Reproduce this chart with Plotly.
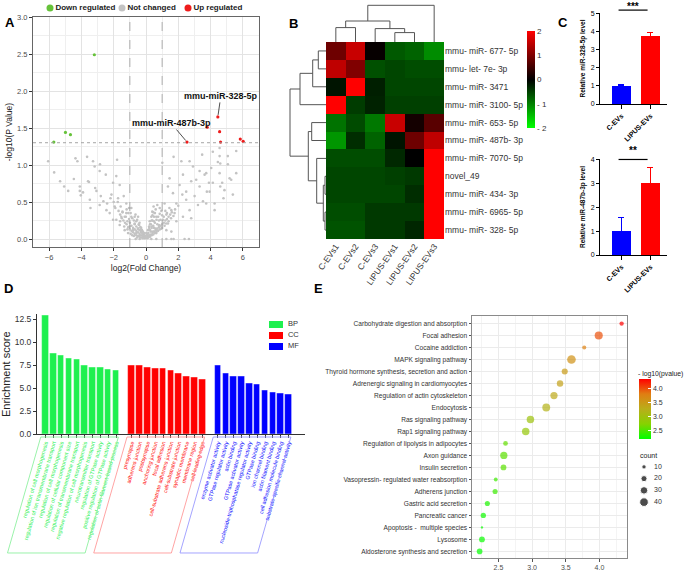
import plotly.graph_objects as go

W, H = 685, 571
FONT = "Liberation Sans"

# ---------------- Panel A : volcano ----------------
ns_points = [
    (-6.06, 1.05), (-5.69, 0.90), (-5.32, 0.78), (-5.07, 0.71), (-4.82, 0.65), (-4.47, 0.81), (-4.37, 1.09),
    (-4.25, 1.05), (-4.10, 0.71), (-4.10, 0.65), (-4.04, 0.59), (-3.90, 0.63), (-3.65, 1.11), (-3.59, 0.78),
    (-3.53, 0.77), (-3.48, 0.53), (-3.44, 0.42), (-3.28, 1.05), (-3.18, 0.98), (-3.15, 0.69), (-3.07, 0.65),
    (-2.87, 0.92), (-2.80, 0.58), (-2.64, 0.51), (-2.49, 0.87), (-2.41, 0.48), (-2.25, 0.35), (-2.14, 0.60),
    (-2.04, 0.76), (-1.94, 0.44), (-1.84, 0.85), (-1.79, 1.07), (-1.73, 0.55), (-1.63, 0.73), (-1.57, 0.44),
    (-1.46, 0.37), (-1.38, 0.58), (-1.32, 0.30), (-1.22, 0.48), (-1.15, 0.24), (-1.05, 0.42), (-1.01, 0.17),
    (-0.91, 0.30), (-0.80, 0.12), (-0.70, 0.21), (-0.60, 0.08), (-0.49, 0.14), (-0.39, 0.05), (-0.29, 0.10),
    (-0.19, 0.03), (-0.08, 0.01), (-0.64, 0.0), (-0.39, 0.0), (0.33, 0.0), (0.64, 0.0), (1.26, 0.0), (1.57, 0.0),
    (1.71, 0.0), (2.39, 0.0), (2.66, 0.0), (1.01, 1.03), (1.71, 1.11), (1.36, 0.71), (1.46, 0.82), (2.19, 1.05),
    (2.29, 0.87), (2.70, 1.05), (2.80, 0.78), (2.91, 0.98), (3.11, 0.80), (3.32, 0.92), (3.48, 1.14), (3.63, 0.87),
    (3.77, 0.64), (3.90, 0.76), (4.04, 0.96), (4.14, 0.76), (4.25, 0.48), (4.45, 1.04), (4.56, 1.12), (4.60, 0.71),
    (4.72, 0.76), (4.80, 0.55), (5.07, 1.01), (5.18, 0.82), (5.59, 1.19), (5.59, 0.89), (5.38, 0.60), (4.56, 1.23),
    (4.25, 0.39), (3.73, 0.48), (3.22, 0.46), (2.70, 0.39), (2.25, 0.60), (1.88, 0.48), (1.57, 0.39), (1.26, 0.33),
    (1.05, 0.26), (0.80, 0.19), (0.60, 0.14), (0.43, 0.10), (0.27, 0.05), (0.12, 0.02), (1.15, 0.48), (0.85, 0.42),
    (0.64, 0.30), (0.49, 0.24), (0.35, 0.17), (2.08, 0.73), (2.49, 0.64), (3.01, 0.58), (3.53, 0.51), (3.94, 0.64),
    (3.32, 0.71), (2.49, 0.53), (1.67, 0.62), (1.77, 0.35), (1.36, 0.21), (1.88, 0.24), (2.29, 0.30), (2.80, 0.28),
    (0.95, 0.14), (1.26, 0.12), (1.57, 0.10), (0.64, 0.08), (-1.84, 0.26), (-1.63, 0.19), (-1.32, 0.12),
    (-1.11, 0.08), (-0.85, 0.05), (-1.53, 0.30), (-2.04, 0.26), (-2.45, 0.39), (-2.87, 0.46), (-1.22, 0.35),
    (-0.91, 0.42), (-0.70, 0.30), (-0.60, 0.24), (-0.49, 0.30), (-0.43, 0.19), (-0.35, 0.12), (-0.23, 0.08),
    (-0.14, 0.05), (0.02, 0.08), (0.12, 0.12), (0.19, 0.17), (0.23, 0.24), (0.33, 0.30), (0.39, 0.37), (0.47, 0.44),
    (4.14, 1.18), (5.07, 1.12), (4.60, 1.02), (3.73, 0.89), (4.56, 0.89), (5.28, 0.80), (4.86, 0.66),
    (-2.85, 1.01), (-1.90, 0.42), (-1.70, 0.38), (-1.60, 0.33), (-1.50, 0.28), (-1.40, 0.25), (-1.30, 0.22),
    (-1.20, 0.20), (-1.10, 0.16), (-1.00, 0.13), (-0.90, 0.11), (-0.80, 0.09), (-0.70, 0.07), (-0.60, 0.05),
    (-0.50, 0.04), (-0.40, 0.03), (-0.30, 0.02), (-0.20, 0.01), (-1.00, 0.22), (-0.90, 0.18), (-0.80, 0.15),
    (-0.70, 0.13), (-0.60, 0.11), (-0.50, 0.09), (-0.40, 0.07), (-0.30, 0.05), (-0.20, 0.04), (-0.10, 0.02),
    (-0.70, 0.20), (-0.60, 0.17), (-0.50, 0.14), (-0.40, 0.12), (-0.30, 0.09), (-0.20, 0.07), (-0.10, 0.05),
    (-0.55, 0.26), (-0.45, 0.20), (-0.35, 0.16), (-0.25, 0.12), (-0.15, 0.08), (-0.05, 0.04), (-1.25, 0.30),
    (-1.45, 0.36), (-1.75, 0.50), (-2.20, 0.55), (-2.00, 0.50), (-0.85, 0.28), (-0.65, 0.33), (-1.10, 0.35),
    (0.10, 0.03), (0.20, 0.05), (0.30, 0.06), (0.40, 0.08), (0.50, 0.10), (0.60, 0.12), (0.70, 0.14), (0.80, 0.16),
    (0.90, 0.18), (1.00, 0.20), (1.10, 0.22), (1.20, 0.25), (1.30, 0.27), (1.40, 0.30), (1.50, 0.33), (1.60, 0.36),
    (1.80, 0.40), (2.00, 0.45), (0.15, 0.08), (0.25, 0.12), (0.35, 0.15), (0.45, 0.18), (0.55, 0.22), (0.65, 0.26),
    (0.75, 0.30), (0.85, 0.34), (0.95, 0.38), (0.20, 0.15), (0.30, 0.20), (0.40, 0.25), (0.50, 0.30), (0.30, 0.10),
    (0.50, 0.15), (0.70, 0.20), (0.90, 0.26), (1.10, 0.30), (1.30, 0.35), (0.05, 0.01), (0.15, 0.02), (0.60, 0.40),
    (0.70, 0.46), (0.45, 0.36),
    (-1.35, 0.17), (-1.15, 0.13), (-0.95, 0.07), (-0.75, 0.04), (-0.55, 0.02), (-1.60, 0.24), (-1.05, 0.27),
    (-0.75, 0.25), (-0.95, 0.35), (-1.20, 0.40), (-0.40, 0.22), (-0.30, 0.15), (-0.20, 0.10), (-0.10, 0.08),
    (0.00, 0.02), (0.05, 0.05), (0.10, 0.07), (0.25, 0.03), (0.35, 0.05), (0.45, 0.06), (0.55, 0.08), (0.65, 0.10),
    (0.75, 0.11), (0.85, 0.13), (1.00, 0.15), (1.15, 0.18), (1.25, 0.21), (1.40, 0.24), (1.55, 0.28), (1.70, 0.31),
    (0.40, 0.32), (0.55, 0.35), (0.80, 0.25), (1.00, 0.32), (1.20, 0.38), (1.45, 0.42), (0.25, 0.20), (0.35, 0.25),
]
down_x = [-5.71, -4.99, -4.68, -3.20]
down_y = [1.31, 1.44, 1.41, 2.49]
up_x = [2.54, 3.79, 4.45, 4.56, 4.62, 5.84, 6.02]
up_y = [1.31, 1.51, 1.65, 1.45, 1.31, 1.35, 1.32]
volcano_legend = ["Down regulated", "Not changed", "Up regulated"]
labelled_names = ["mmu-miR-328-5p", "mmu-miR-487b-3p"]
labelled_x = [4.45, 2.54]
labelled_y = [1.65, 1.31]
fc_cut = 1.0
p_cut = 1.301

# ---------------- Panel B : heatmap ----------------
hm_cols = ["C-EVs1", "C-EVs2", "C-EVs3", "LIPUS-EVs1", "LIPUS-EVs2", "LIPUS-EVs3"]
hm_rows = ["mmu- miR- 677- 5p", "mmu- let- 7e- 3p", "mmu- miR- 3471", "mmu- miR- 3100- 5p",
           "mmu- miR- 653- 5p", "mmu- miR- 487b- 3p", "mmu- miR- 7070- 5p", "novel_49",
           "mmu- miR- 434- 3p", "mmu- miR- 6965- 5p", "mmu- miR- 328- 5p"]
hm_z = [
    [0.86, 1.57, 0.05, -0.70, -0.78, -1.10],
    [1.50, 1.00, -0.63, -0.55, -0.60, -0.60],
    [-0.16, 2.00, -0.24, -0.55, -0.55, -0.55],
    [2.00, -0.47, -0.27, -0.50, -0.50, -0.50],
    [-0.90, -0.59, -0.94, 1.57, 0.16, 0.70],
    [-1.18, -0.35, -0.78, -0.16, 0.86, 1.50],
    [-0.60, -0.60, -0.60, -0.31, 0.00, 2.00],
    [-0.55, -0.55, -0.55, -0.50, -0.45, 2.00],
    [-0.55, -0.55, -0.55, -0.55, -0.35, 2.00],
    [-0.60, -0.60, -0.45, -0.45, -0.45, 2.00],
    [-0.65, -0.65, -0.45, -0.45, -0.30, 2.00],
]
# linkage: (node a, node b, distance); new node ids follow the leaves
col_merges = [(0, 1, 14.4), (3, 4, 9.4), (2, 7, 13.4), (6, 8, 21.0), (9, 5, 36.7)]
row_merges = [(0, 1, 7.7), (11, 2, 13.3), (12, 3, 26.0), (4, 5, 14.3), (7, 8, 1.0), (9, 10, 1.0),
              (15, 16, 2.7), (6, 17, 9.3), (14, 18, 17.7), (13, 19, 36.0)]

# ---------------- Panel C : qPCR bars ----------------
c_groups = ["C-EVs", "LIPUS-EVs"]
mir328_mean = [1.02, 3.75]
mir328_err = [0.06, 0.17]
mir487_mean = [1.00, 3.00]
mir487_err = [0.55, 0.68]

# ---------------- Panel D : GO enrichment ----------------
bp_terms = ["regulation of cell morphogenesis", "regulation of ion transmembrane transport",
            "regulation of cell morphogenesis", "regulation of cellular component size",
            "regulation of transmembrane transport", "negative regulation of cell morphogenesis",
            "neurotransmitter transport", "regulation of GTPase activity",
            "positive regulation of GTPase activity", "regulation of actin filament-based process"]
bp_scores = [12.9, 8.77, 8.51, 8.19, 8.08, 7.46, 7.28, 7.21, 7.07, 6.92]
cc_terms = ["presynapse", "adherens junction", "postsynapse", "anchoring junction", "focal adhesion",
            "cell-substrate adherens junction", "cell-substrate junction", "synaptic membrane",
            "membrane region", "cell leading edge"]
cc_scores = [7.50, 7.43, 7.28, 7.17, 7.10, 6.88, 6.63, 6.27, 6.20, 5.94]
mf_terms = ["enzyme activator activity", "GTPase regulator activity", "actin binding",
            "GTPase activator activity", "nucleoside-triphosphatase regulator activity", "GTPase binding",
            "ion channel binding", "actin filament binding", "cell adhesion molecule binding",
            "substrate-specific channel activity"]
mf_scores = [7.46, 6.59, 6.30, 6.23, 5.51, 5.36, 4.78, 4.57, 4.38, 4.31]
go_groups = ["BP", "CC", "MF"]

# ---------------- Panel E : KEGG bubble ----------------
kegg_terms = ["Carbohydrate digestion and absorption", "Focal adhesion", "Cocaine addiction",
              "MAPK signaling pathway", "Thyroid hormone synthesis, secretion and action",
              "Adrenergic signaling in cardiomyocytes", "Regulation of actin cytoskeleton", "Endocytosis",
              "Ras signaling pathway", "Rap1 signaling pathway", "Regulation of lipolysis in adipocytes",
              "Axon guidance", "Insulin secretion", "Vasopressin- regulated water reabsorption",
              "Adherens junction", "Gastric acid secretion", "Pancreatic cancer",
              "Apoptosis -  multiple species", "Lysosome", "Aldosterone synthesis and secretion"]
kegg_logp = [4.33, 3.99, 3.775, 3.585, 3.485, 3.415, 3.325, 3.21, 2.975, 2.905, 2.605, 2.58, 2.575,
             2.46, 2.45, 2.335, 2.275, 2.255, 2.255, 2.22]
kegg_count = [10, 35, 9, 40, 20, 22, 28, 33, 30, 30, 12, 28, 18, 8, 14, 14, 15, 3, 18, 17]
count_legend = [10, 20, 30, 40]

# =========================================================
def dom_x(a, b):
    return [a / W, b / W]


def dom_y(top, bottom):
    return [1 - bottom / H, 1 - top / H]


def py(y):
    return 1 - y / H


GREEN_A, GRAY_A, RED_A = "#66c23a", "#c3c3c3", "#ee1c1c"
BPC, CCC, MFC = "#1ef04f", "#ff0000", "#0000ff"
AXC = "#333333"

fig = go.Figure()

# ---- A ----
fig.add_trace(go.Scatter(x=[p[0] for p in ns_points], y=[p[1] for p in ns_points], mode="markers",
                         marker=dict(size=2.6, color=GRAY_A), xaxis="x", yaxis="y", showlegend=False))
fig.add_trace(go.Scatter(x=down_x, y=down_y, mode="markers", marker=dict(size=3.2, color=GREEN_A),
                         xaxis="x", yaxis="y", showlegend=False))
fig.add_trace(go.Scatter(x=up_x, y=up_y, mode="markers", marker=dict(size=3.2, color=RED_A),
                         xaxis="x", yaxis="y", showlegend=False))
leg_offsets = [0, 72, 138]
fig.add_trace(go.Scatter(x=leg_offsets, y=[0, 0, 0], mode="markers+text", text=volcano_legend,
                         textposition="middle right", cliponaxis=False,
                         marker=dict(size=7, color=[GREEN_A, GRAY_A, RED_A]),
                         textfont=dict(size=8, color="#222", family=FONT, weight="bold"),
                         xaxis="x10", yaxis="y10", showlegend=False))

# ---- B ----
fig.add_trace(go.Heatmap(z=hm_z, x=list(range(len(hm_cols))), y=list(range(len(hm_rows))),
                         colorscale=[[0, "#00ff00"], [0.5, "#000000"], [1, "#ff0000"]], zmin=-2, zmax=2,
                         xaxis="x2", yaxis="y2",
                         colorbar=dict(x=527 / W, xanchor="left", y=py(79.5), yanchor="middle",
                                       len=97, lenmode="pixels", thickness=8, thicknessmode="pixels",
                                       xpad=0, ypad=0, outlinewidth=0, ticks="",
                                       tickvals=[-2, -1, 0, 1, 2], ticktext=["- 2", "- 1", "0", "1", "2"],
                                       tickfont=dict(size=8, color="#333", family=FONT))))


def dendro(n, merges):
    pos = {i: float(i) for i in range(n)}
    hgt = {i: 0.0 for i in range(n)}
    ps, hs = [], []
    for k, (a, b, d) in enumerate(merges):
        node = n + k
        pos[node] = (pos[a] + pos[b]) / 2
        hgt[node] = d
        ps += [pos[a], pos[a], pos[b], pos[b], None]
        hs += [hgt[a], d, d, hgt[b], None]
    return ps, hs


cp, ch = dendro(len(hm_cols), col_merges)
fig.add_trace(go.Scatter(x=cp, y=ch, mode="lines", line=dict(color="#555", width=1),
                         xaxis="x3", yaxis="y3", showlegend=False))
rp, rh = dendro(len(hm_rows), row_merges)
fig.add_trace(go.Scatter(x=rh, y=rp, mode="lines", line=dict(color="#555", width=1),
                         xaxis="x4", yaxis="y4", showlegend=False))

# ---- C ----
bar_cols = ["#0000ff", "#ff0000"]
for i in range(2):
    fig.add_trace(go.Bar(x=[i], y=[mir328_mean[i]], width=0.655, marker=dict(color=bar_cols[i], line_width=0),
                         error_y=dict(type="data", array=[mir328_err[i]], arrayminus=[0], symmetric=False,
                                      color=bar_cols[i], thickness=1, width=3),
                         xaxis="x5", yaxis="y5", showlegend=False))
    fig.add_trace(go.Bar(x=[i], y=[mir487_mean[i]], width=0.655, marker=dict(color=bar_cols[i], line_width=0),
                         error_y=dict(type="data", array=[mir487_err[i]], arrayminus=[0], symmetric=False,
                                      color=bar_cols[i], thickness=1, width=3),
                         xaxis="x7", yaxis="y7", showlegend=False))

# ---- D ----
groups = [(bp_terms, bp_scores, BPC), (cc_terms, cc_scores, CCC), (mf_terms, mf_scores, MFC)]
d_tickvals, d_ticktext, d_spans = [], [], []
start = 0
for terms, scores, col in groups:
    xs = list(range(start, start + len(scores)))
    fig.add_trace(go.Bar(x=xs, y=scores, width=0.84,
                         marker=dict(color=col, line=dict(color="rgba(255,255,255,0.55)", width=0.8)),
                         xaxis="x6", yaxis="y6", showlegend=False))
    d_tickvals += xs
    d_ticktext += ['<span style="color:%s">%s</span>' % (col, t) for t in terms]
    d_spans.append((xs[0], xs[-1], col))
    start += len(scores) + 1
D_XR = [-1.08, start - 1 + 1.1]

# D legend
fig.add_trace(go.Bar(x=[1, 1, 1], y=[0, 1, 2], orientation="h", width=0.72,
                     marker=dict(color=[BPC, CCC, MFC], line_width=0), xaxis="x11", yaxis="y11",
                     showlegend=False))
fig.add_trace(go.Scatter(x=[1.35] * 3, y=[0, 1, 2], mode="text", text=go_groups, textposition="middle right",
                         textfont=dict(size=7.5, color="#333", family=FONT), cliponaxis=False,
                         xaxis="x11", yaxis="y11", showlegend=False))

# ---- E ----
def bubble(c):
    return 1.37 * c ** 0.5


e_cscale = [[0, "#00ff00"], [0.25, "#86d200"], [0.5, "#b9ae1a"], [0.75, "#e07e12"], [1, "#ff0000"]]
cmin, cmax = min(kegg_logp), max(kegg_logp)
cb_len = (cmax - cmin) * 28.3
fig.add_trace(go.Scatter(x=kegg_logp, y=list(range(len(kegg_terms))), mode="markers",
                         marker=dict(size=[bubble(c) for c in kegg_count], color=kegg_logp, colorscale=e_cscale,
                                     cmin=cmin, cmax=cmax, line_width=0,
                                     colorbar=dict(x=639 / W, xanchor="left", y=py(379 + cb_len / 2),
                                                   yanchor="middle", len=cb_len, lenmode="pixels", thickness=12,
                                                   thicknessmode="pixels", xpad=0, ypad=0, outlinewidth=0,
                                                   ticks="inside", ticklen=3, tickcolor="white",
                                                   tickvals=[2.5, 3.0, 3.5, 4.0],
                                                   ticktext=["2.5", "3.0", "3.5", "4.0"],
                                                   tickfont=dict(size=7, color="#333", family=FONT))),
                         xaxis="x8", yaxis="y8", showlegend=False))
fig.add_trace(go.Scatter(x=[0] * 4, y=list(range(4)), mode="markers",
                         marker=dict(size=[bubble(c) for c in count_legend], color="black"),
                         xaxis="x9", yaxis="y9", showlegend=False, cliponaxis=False))
fig.add_trace(go.Scatter(x=[10] * 4, y=list(range(4)), mode="text", text=[str(c) for c in count_legend],
                         textposition="middle right", textfont=dict(size=7, color="#333", family=FONT),
                         xaxis="x9", yaxis="y9", showlegend=False, cliponaxis=False))

# ================= layout =================
tf = lambda s, c="#4d4d4d", **kw: dict(size=s, color=c, family=FONT, **kw)
hidden = dict(visible=False, showgrid=False, zeroline=False, fixedrange=True)

E_BOTTOM = 558

layout = dict(
    width=W, height=H, margin=dict(l=0, r=0, t=0, b=0, pad=0, autoexpand=False),
    paper_bgcolor="white", plot_bgcolor="white",
    font=dict(family=FONT), showlegend=False, bargap=0,
    # A
    xaxis=dict(domain=dom_x(33, 259), range=[-7, 7], anchor="y", tickvals=[-6, -4, -2, 0, 2, 4, 6],
               showgrid=True, gridcolor="#e3e3e3", gridwidth=0.8,
               minor=dict(tickvals=[-7, -5, -3, -1, 1, 3, 5, 7], showgrid=True, gridcolor="#efefef",
                          gridwidth=0.6, ticks=""),
               ticks="outside", ticklen=3, tickcolor=AXC, showline=True, linecolor="#666", mirror=True,
               zeroline=False, tickfont=tf(7.5),
               title=dict(text="log2(Fold Change)", font=tf(8.5, "#222"), standoff=4)),
    yaxis=dict(domain=dom_y(17, 247), range=[-0.108, 3.0], anchor="x", tickvals=[0, 0.5, 1, 1.5, 2, 2.5, 3],
               tickformat=".1f", showgrid=True, gridcolor="#e3e3e3", gridwidth=0.8,
               minor=dict(tickvals=[0.25, 0.75, 1.25, 1.75, 2.25, 2.75], showgrid=True, gridcolor="#efefef",
                          gridwidth=0.6, ticks=""),
               ticks="outside", ticklen=3, tickcolor=AXC, showline=True, linecolor="#666", mirror=True,
               zeroline=False, tickfont=tf(7.5),
               title=dict(text="-log10(P Value)", font=tf(8.5, "#222"), standoff=3)),
    xaxis10=dict(domain=dom_x(50, 250), range=[0, 200], anchor="y10", **hidden),
    yaxis10=dict(domain=dom_y(2, 14), range=[-1, 1], anchor="x10", **hidden),
    # B
    xaxis2=dict(domain=dom_x(326, 444), range=[-0.5, 5.5], anchor="y2", tickvals=list(range(6)),
                ticktext=hm_cols, tickangle=-55, ticks="", showgrid=False, zeroline=False, showline=False,
                tickfont=tf(8.5, "#333")),
    yaxis2=dict(domain=dom_y(42, 239), range=[10.5, -0.5], anchor="x2", side="right",
                tickvals=list(range(11)), ticktext=hm_rows, ticks="", showgrid=False, zeroline=False,
                showline=False, tickfont=tf(8.5, "#333")),
    xaxis3=dict(domain=dom_x(326, 444), range=[-0.5, 5.5], anchor="y3", **hidden),
    yaxis3=dict(domain=dom_y(4, 42), range=[0, 38], anchor="x3", **hidden),
    xaxis4=dict(domain=dom_x(288, 326), range=[38, 0], anchor="y4", **hidden),
    yaxis4=dict(domain=dom_y(42, 239), range=[10.5, -0.5], anchor="x4", **hidden),
    # C
    xaxis5=dict(domain=dom_x(600, 667), range=[-0.74, 1.57], anchor="y5", tickvals=[0, 1], ticktext=c_groups,
                tickangle=-45, ticks="outside", ticklen=4, tickcolor="black", showline=True, linecolor="black",
                linewidth=1, showgrid=False, zeroline=False, tickfont=tf(7, "black", weight="bold")),
    yaxis5=dict(domain=dom_y(13, 104), range=[0, 5.02], anchor="x5", tickvals=[0, 1, 2, 3, 4, 5],
                ticks="outside", ticklen=3, tickcolor="black", showline=True, linecolor="black", linewidth=1,
                showgrid=False, zeroline=False, tickfont=tf(7, "black"),
                title=dict(text="Relative miR-328-5p level", font=tf(6.5, "black", weight="bold"), standoff=4)),
    xaxis7=dict(domain=dom_x(600, 667), range=[-0.74, 1.57], anchor="y7", tickvals=[0, 1], ticktext=c_groups,
                tickangle=-45, ticks="outside", ticklen=4, tickcolor="black", showline=True, linecolor="black",
                linewidth=1, showgrid=False, zeroline=False, tickfont=tf(7, "black", weight="bold")),
    yaxis7=dict(domain=dom_y(159, 255), range=[0, 4.02], anchor="x7", tickvals=[0, 1, 2, 3, 4],
                ticks="outside", ticklen=3, tickcolor="black", showline=True, linecolor="black", linewidth=1,
                showgrid=False, zeroline=False, tickfont=tf(7, "black"),
                title=dict(text="Relative miR-487b-3p level", font=tf(6.5, "black", weight="bold"), standoff=4)),
    # D
    xaxis6=dict(domain=dom_x(37, 305), range=D_XR, anchor="y6", tickvals=d_tickvals, ticktext=d_ticktext,
                tickangle=-74, ticks="outside", ticklen=2.5, tickcolor=AXC, showline=True, linecolor=AXC,
                showgrid=False, zeroline=False, tickfont=dict(size=5.5, family=FONT)),
    yaxis6=dict(domain=dom_y(314.4, 434), range=[0, 13], anchor="x6", tickvals=[0, 2.5, 5, 7.5, 10, 12.5],
                tickformat=".1f", ticks="outside", ticklen=3, tickcolor=AXC, showline=True, linecolor=AXC,
                showgrid=False, zeroline=False, tickfont=tf(8.5, "#333"),
                title=dict(text="Enrichment score", font=tf(11, "#222"), standoff=4)),
    xaxis11=dict(domain=dom_x(269, 313), range=[0, 44 / 14], anchor="y11", **hidden),
    yaxis11=dict(domain=dom_y(318.5, 351.5), range=[2.5, -0.5], anchor="x11", **hidden),
    # E
    xaxis8=dict(domain=dom_x(472, 627), range=[2.107, 4.41], anchor="y8", tickvals=[2.5, 3.0, 3.5, 4.0],
                tickformat=".1f", showgrid=True, gridcolor="#ebebeb",
                minor=dict(tickvals=[2.25, 2.75, 3.25, 3.75, 4.25], showgrid=True, gridcolor="#f4f4f4", ticks=""),
                ticks="outside", ticklen=2.5, tickcolor="#555", showline=True, linecolor="#8a8a8a", mirror=True,
                zeroline=False, tickfont=tf(7)),
    yaxis8=dict(domain=dom_y(316, E_BOTTOM), range=[19.55, -0.63], anchor="x8",
                tickvals=list(range(len(kegg_terms))),
                ticktext=kegg_terms, showgrid=True, gridcolor="#ebebeb", ticks="outside", ticklen=2.5,
                tickcolor="#555", showline=True, linecolor="#8a8a8a", mirror=True, zeroline=False,
                tickfont=tf(6.6, "#333")),
    xaxis9=dict(domain=dom_x(638, 680), range=[-6, 36], anchor="y9", **hidden),
    yaxis9=dict(domain=dom_y(461, 508), range=[3.5, -0.5], anchor="x9", **hidden),
)
fig.update_layout(**layout)

# ---- shapes ----
shapes = []
for v in (-fc_cut, fc_cut):
    shapes.append(dict(type="line", xref="x", yref="y", x0=v, x1=v, y0=-0.108, y1=3.0,
                       line=dict(color="#9a9a9a", width=0.8, dash="dash")))
shapes.append(dict(type="line", xref="x", yref="y", x0=-7, x1=7, y0=p_cut, y1=p_cut,
                   line=dict(color="#9a9a9a", width=0.9, dash="dot")))


def c_paper(val, top, bottom, ymax):
    d0, d1 = dom_y(top, bottom)
    return d0 + val / ymax * (d1 - d0)


shapes.append(dict(type="line", xref="x5", yref="paper", x0=-0.1, x1=0.9, y0=c_paper(5.18, 13, 104, 5.02),
                   y1=c_paper(5.18, 13, 104, 5.02), line=dict(color="black", width=1.2)))
shapes.append(dict(type="line", xref="x7", yref="paper", x0=-0.1, x1=0.9, y0=c_paper(4.0, 159, 255, 4.02),
                   y1=c_paper(4.0, 159, 255, 4.02), line=dict(color="black", width=1.2)))

# parallelogram boxes under GO labels
d_w, d_h = 305 - 37, 434 - 314.4
box_top, box_bot = 3, 119
shift = (box_bot - box_top) / 3.487 / d_w
box_cols = {BPC: "#8ef0a0", CCC: "#ff9a9a", MFC: "#9a9aff"}
for first, last, col in d_spans:
    xl = (first - 0.6 - D_XR[0]) / (D_XR[1] - D_XR[0])
    xr = (last + 0.3 - D_XR[0]) / (D_XR[1] - D_XR[0])
    yt, yb = -box_top / d_h, -box_bot / d_h
    path = "M %f,%f L %f,%f L %f,%f L %f,%f Z" % (xl, yt, xr, yt, xr - shift, yb, xl - shift, yb)
    shapes.append(dict(type="path", xref="x6 domain", yref="y6 domain", path=path,
                       line=dict(color=box_cols[col], width=0.9)))
fig.update_layout(shapes=shapes)

# ---- annotations ----
ann = []
for lab, x, y in zip(["A", "B", "C", "D", "E"], [3, 287, 556, 2, 312], [23, 24, 23, 288, 288]):
    ann.append(dict(text="<b>%s</b>" % lab, x=x / W, y=py(y), xref="paper", yref="paper", xanchor="left",
                    yanchor="middle", showarrow=False, font=dict(size=13, color="black", family=FONT)))
for name, x, y, ax, ay in zip(labelled_names, labelled_x, labelled_y, [3, -16], [-21, -19]):
    ann.append(dict(text="<b>%s</b>" % name, x=x, y=y, xref="x", yref="y", ax=ax, ay=ay, showarrow=True,
                    arrowhead=0, arrowwidth=0.8, arrowcolor="#222", standoff=2,
                    font=dict(size=9, color="#111", family=FONT)))
ann.append(dict(text="<b>***</b>", x=0.4, y=py(6.5), xref="x5", yref="paper", yanchor="middle",
                showarrow=False, font=dict(size=10, color="black", family=FONT)))
ann.append(dict(text="<b>**</b>", x=0.4, y=py(150.5), xref="x7", yref="paper", yanchor="middle",
                showarrow=False, font=dict(size=10, color="black", family=FONT)))
ann.append(dict(text="- log10(pvalue)", x=636 / W, y=py(374), xref="paper", yref="paper", xanchor="left",
                yanchor="middle", showarrow=False, font=tf(6.8, "#222")))
ann.append(dict(text="count", x=638 / W, y=py(455), xref="paper", yref="paper", xanchor="left",
                yanchor="middle", showarrow=False, font=tf(7, "#222")))
fig.update_layout(annotations=ann)

fig.write_html("out.html", config={"displayModeBar": False},
               post_script="document.body.style.margin='0px';document.body.style.overflow='hidden';")
